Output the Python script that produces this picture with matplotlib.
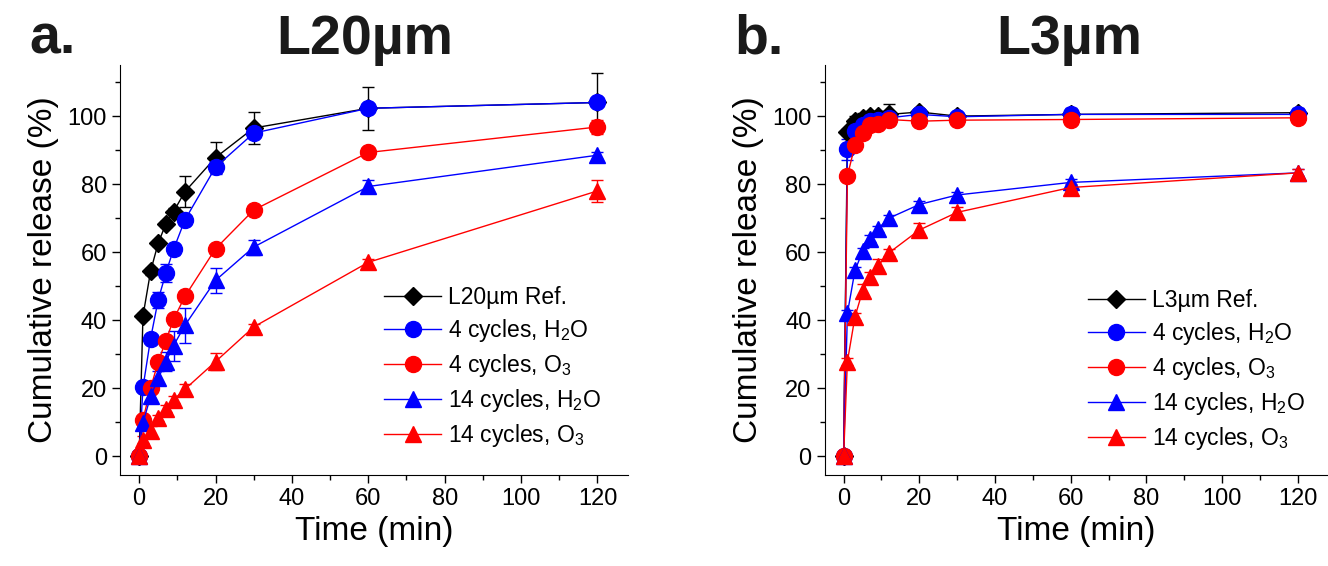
import numpy as np
import matplotlib
matplotlib.use('Agg')
import matplotlib.pyplot as plt

plt.rcParams['font.family'] = ['Liberation Sans', 'DejaVu Sans']
plt.rcParams['mathtext.default'] = 'regular'

t = [0, 1, 3, 5, 7, 9, 12, 20, 30, 60, 120]

# panel a: L20um
a_ref = [0, 41.2, 54.4, 62.7, 68.3, 71.9, 77.8, 87.8, 96.5, 102.3, 104.0]
a_ref_err = [0, 1, 1, 1, 1, 1, 4.6, 4.5, 4.7, 6.3, 8.6]
a_h2o4 = [0, 20.2, 34.6, 46.0, 53.9, 60.8, 69.5, 85.0, 95.0, 102.3, 104.0]
a_h2o4_err = [0, 1, 1, 2.3, 2.6, 1.5, 1.5, 2.0, 1.5, 1.0, 1.0]
a_o34 = [0, 10.7, 20.0, 27.8, 33.9, 40.2, 47.0, 61.0, 72.4, 89.3, 96.8]
a_o34_err = [0, 1, 1, 1, 1, 1.5, 1.5, 1, 1, 1, 2.0]
a_h2o14 = [0, 9.8, 17.6, 22.9, 27.8, 32.5, 38.5, 51.7, 61.5, 79.3, 88.5]
a_h2o14_err = [0, 1, 1.5, 2.0, 2.7, 4.4, 5.1, 3.6, 2.2, 2.0, 1.0]
a_o314 = [0, 4.9, 7.5, 11.2, 13.9, 16.6, 19.7, 27.8, 38.0, 57.0, 78.0]
a_o314_err = [0, 1, 1.5, 1, 1, 1, 1.5, 2.4, 1, 1, 3.3]

# panel b: L3um
b_ref = [0, 95.3, 98.5, 99.5, 100.0, 100.0, 100.5, 101.2, 100.0, 100.5, 101.0]
b_ref_err = [0, 1, 1.5, 1.5, 1.5, 1.5, 3.2, 1, 1, 1, 1]
b_h2o4 = [0, 90.2, 95.6, 97.5, 98.5, 99.0, 99.5, 100.5, 99.8, 100.5, 100.5]
b_h2o4_err = [0, 3.0, 1.5, 1.5, 1.5, 2.5, 1, 1, 1, 2.0, 2.0]
b_o34 = [0, 82.4, 91.5, 95.1, 97.3, 97.8, 99.0, 98.5, 98.8, 99.0, 99.5]
b_o34_err = [0, 1, 1, 1.5, 1.5, 1.5, 1, 1, 1, 1, 1]
b_h2o14 = [0, 42.0, 54.6, 60.2, 63.9, 66.8, 70.0, 74.0, 76.8, 80.5, 83.3]
b_h2o14_err = [0, 1, 1, 1, 1, 1, 1, 1, 1, 1, 1]
b_o314 = [0, 27.8, 41.0, 48.5, 52.7, 55.9, 59.8, 66.5, 71.7, 79.0, 83.3]
b_o314_err = [0, 1, 1, 2.0, 1.5, 2.0, 1, 2.0, 1.5, 1, 1]

labels_a = ['L20µm Ref.', '4 cycles, H$_2$O', '4 cycles, O$_3$',
            '14 cycles, H$_2$O', '14 cycles, O$_3$']
labels_b = ['L3µm Ref.', '4 cycles, H$_2$O', '4 cycles, O$_3$',
            '14 cycles, H$_2$O', '14 cycles, O$_3$']

colors = ['black', 'blue', 'red', 'blue', 'red']
markers = ['D', 'o', 'o', '^', '^']
msizes = [9.5, 11.5, 11.5, 11.5, 11.5]

fig = plt.figure(figsize=(13.28, 5.66), dpi=100)
ax1 = fig.add_axes([0.0904, 0.161, 0.3825, 0.724])
ax2 = fig.add_axes([0.621, 0.161, 0.379, 0.724])


def draw(ax, series, errs, labels, legend_pos):
    for y, e, c, m, ms, lab in zip(series, errs, colors, markers, msizes, labels):
        ax.errorbar(t, y, yerr=e, color=c, marker=m, markersize=ms, lw=1,
                    elinewidth=1, capsize=4, capthick=1, label=lab)
    ax.set_xlim(-5, 128)
    ax.set_ylim(-5.5, 115)
    ax.set_xticks(np.arange(0, 121, 20))
    ax.set_yticks(np.arange(0, 101, 20))
    ax.set_xticks(np.arange(0, 121, 10), minor=True)
    ax.set_yticks(np.arange(0, 111, 10), minor=True)
    ax.spines['top'].set_visible(False)
    ax.spines['right'].set_visible(False)
    ax.tick_params(which='major', direction='out', length=6, width=1, labelsize=17)
    ax.tick_params(which='minor', direction='out', length=3.5, width=1)
    ax.set_xlabel('Time (min)', fontsize=24, labelpad=4)
    ax.set_ylabel('Cumulative release (%)', fontsize=24, labelpad=6)
    handles, labs = ax.get_legend_handles_labels()
    handles = [h[0] for h in handles]
    ax.legend(handles, labs, loc='lower left', bbox_to_anchor=legend_pos,
              frameon=False, fontsize=16.5, handlelength=2.5, handletextpad=0.3,
              labelspacing=0.35, borderpad=0)


draw(ax1, [a_ref, a_h2o4, a_o34, a_h2o14, a_o314],
     [a_ref_err, a_h2o4_err, a_o34_err, a_h2o14_err, a_o314_err],
     labels_a, (0.497, 0.035))
draw(ax2, [b_ref, b_h2o4, b_o34, b_h2o14, b_o314],
     [b_ref_err, b_h2o4_err, b_o34_err, b_h2o14_err, b_o314_err],
     labels_b, (0.50, 0.028))

fig.text(0.022, 0.905, 'a.', fontsize=40, fontweight='bold', color='#1a1a1a')
fig.text(0.275, 0.905, 'L20µm', fontsize=40, fontweight='bold', color='#1a1a1a',
         ha='center')
fig.text(0.553, 0.905, 'b.', fontsize=40, fontweight='bold', color='#1a1a1a')
fig.text(0.805, 0.905, 'L3µm', fontsize=40, fontweight='bold', color='#1a1a1a',
         ha='center')

fig.savefig('out.png', dpi=100)
